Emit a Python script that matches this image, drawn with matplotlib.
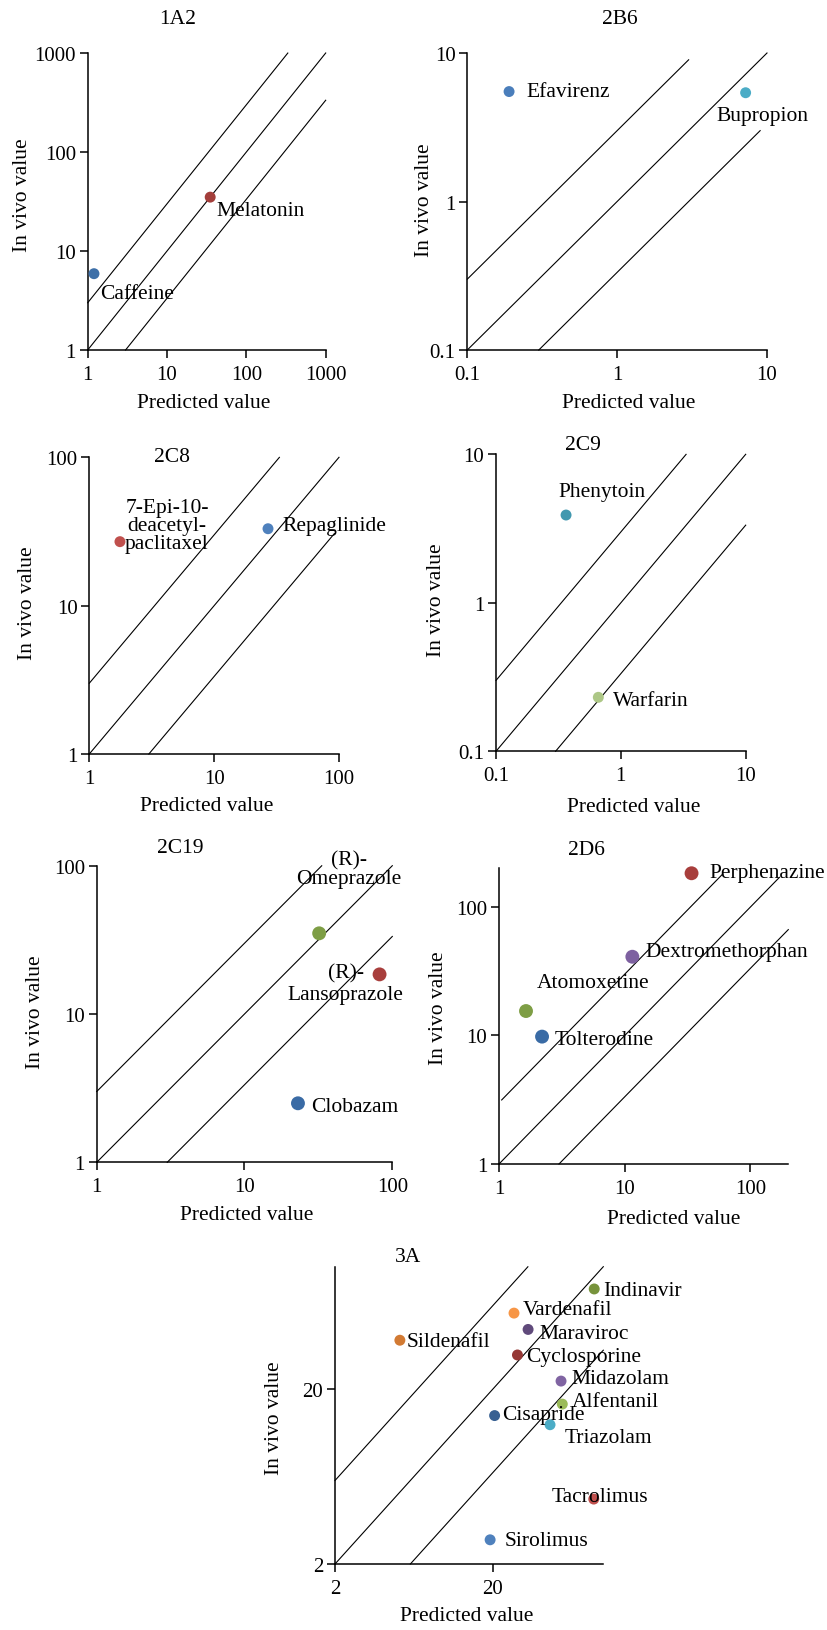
import numpy as np
import matplotlib.pyplot as plt
from matplotlib.ticker import NullLocator

plt.rcParams['font.family'] = ['Liberation Serif', 'DejaVu Serif']
plt.rcParams['font.size'] = 15

W, H = 828, 1631

# ── data (predicted vs in vivo) ───────────────────────────────────────
a1_names = ["Caffeine", "Melatonin"]
a1_pred = [1.2, 35]
a1_vivo = [5.9, 35]
a1_colors = ["#3D6FA8", "#A33E3B"]

b6_names = ["Efavirenz", "Bupropion"]
b6_pred = [0.19, 7.2]
b6_vivo = [5.5, 5.4]
b6_colors = ["#4A7EBB", "#4BACC6"]

c8_names = ["7-Epi-10-\ndeacetyl-\npaclitaxel", "Repaglinide"]
c8_pred = [1.76, 27]
c8_vivo = [27, 33]
c8_colors = ["#C0504D", "#4F81BD"]

c9_names = ["Phenytoin", "Warfarin"]
c9_pred = [0.364, 0.66]
c9_vivo = [3.9, 0.231]
c9_colors = ["#4198AF", "#ADC786"]

c19_names = ["(R)-\nOmeprazole", "(R)-\nLansoprazole", "Clobazam"]
c19_pred = [32, 82, 23]
c19_vivo = [35, 18.5, 2.5]
c19_colors = ["#7E9E45", "#A83E3C", "#3A6BA5"]

d6_names = ["Perphenazine", "Dextromethorphan", "Atomoxetine", "Tolterodine"]
d6_pred = [34, 11.5, 1.64, 2.2]
d6_vivo = [183, 41, 15.5, 9.8]
d6_colors = ["#A83E3C", "#7D60A0", "#7E9E45", "#3A6BA5"]

a3_names = ["Indinavir", "Vardenafil", "Maraviroc", "Sildenafil", "Cyclosporine",
            "Midazolam", "Alfentanil", "Cisapride", "Triazolam", "Tacrolimus",
            "Sirolimus"]
a3_pred = [87.6, 27.2, 33.4, 5.15, 28.6, 54, 55, 20.5, 46, 87, 19.2]
a3_vivo = [74.6, 54.3, 43.8, 38, 31.3, 22.2, 16.4, 14.1, 12.5, 4.7, 2.75]
a3_colors = ["#77933C", "#F79646", "#604A7B", "#D27A33", "#953735",
             "#8064A2", "#9BBB59", "#376092", "#4BACC6", "#C0504D", "#4F81BD"]

# x-extent of the 3-fold / unity / 1/3-fold lines in each panel
fold_ratios = [3, 1, 1 / 3]
a1_spans = [(1, 333), (1, 1000), (3, 1000)]
b6_spans = [(0.1, 3), (0.1, 10), (0.3, 9)]
c8_spans = [(1, 33.3), (1, 100), (3, 92)]
c9_spans = [(0.1, 3.33), (0.1, 10), (0.3, 10)]
c19_spans = [(1, 33.3), (1, 100), (3, 100)]
d6_spans = [(1.05, 60), (1, 170), (3, 200)]
a3_spans = [(2, 33.3), (2, 100), (6, 100)]

# ── label placement (pixel offsets from the point, alignment, spacing) ─
a1_off = [(6, -20, "left", 1.0), (6, -13, "left", 1.0)]
b6_off = [(17, 0, "left", 1.0), (-29, -23, "left", 1.0)]
c8_off = [(47, 16, "center", 0.95), (14, 3, "left", 1.0)]
c9_off = [(-8, 24, "left", 1.0), (15, -3, "left", 1.0)]
c19_off = [(30, 64, "center", 1.0), (-34, -9, "center", 1.2),
           (13, -3, "left", 1.0)]
d6_off = [(18, 1, "left", 1.0), (13, 5, "left", 1.0), (11, 29, "left", 1.0),
          (13, -3, "left", 1.0)]
a3_off = [(9, -2, "left", 1.0), (9, 4, "left", 1.0), (11, -4, "left", 1.0),
          (7, -1, "left", 1.0), (9, -2, "left", 1.0), (10, 3, "left", 1.0),
          (9, 3, "left", 1.0), (8, 1, "left", 1.0), (15, -13, "left", 1.0),
          (-42, 3, "left", 1.0), (15, -1, "left", 1.0)]


def fxy(x, y):
    return x / W, 1 - y / H


def box(l, t, r, b):
    return [l / W, 1 - b / H, (r - l) / W, (b - t) / H]


def panel(fig, rect, title, title_xy, names, pred, vivo, colors, offsets,
          lim, ticks, tick_labels, spans, msize, xlab_xy, ylab_xy):
    ax = fig.add_axes(box(*rect))
    ax.set_xscale("log")
    ax.set_yscale("log")
    ax.set_xlim(lim)
    ax.set_ylim(lim)
    for ratio, (x0, x1) in zip(fold_ratios, spans):
        xs = np.array([x0, x1])
        ax.plot(xs, xs * ratio, color="black", lw=0.8, clip_on=False)
    ax.scatter(pred, vivo, s=msize, c=colors, edgecolors="none", zorder=3,
               clip_on=False)
    for name, x, y, (dx, dy, ha, ls) in zip(names, pred, vivo, offsets):
        ax.annotate(name, (x, y), xytext=(dx, dy), textcoords="offset pixels",
                    ha=ha, va="center", linespacing=ls, fontsize=15.5,
                    zorder=4)
    ax.set_xticks(ticks, tick_labels)
    ax.set_yticks(ticks, tick_labels)
    ax.xaxis.set_minor_locator(NullLocator())
    ax.yaxis.set_minor_locator(NullLocator())
    ax.tick_params(direction="out", length=5.5, width=1.1)
    ax.tick_params(axis="x", pad=5)
    ax.tick_params(axis="y", pad=3)
    for s in ["top", "right"]:
        ax.spines[s].set_visible(False)
    for s in ["left", "bottom"]:
        ax.spines[s].set_linewidth(1.1)
    ax.set_xlabel("Predicted value", va="center", fontsize=15.5)
    ax.set_ylabel("In vivo value", va="center", fontsize=15.5)
    ax.xaxis.set_label_coords(*fxy(*xlab_xy), transform=fig.transFigure)
    ax.yaxis.set_label_coords(*fxy(*ylab_xy), transform=fig.transFigure)
    fig.text(*fxy(*title_xy), title, ha="center", va="center", fontsize=15.5)
    return ax


fig = plt.figure(figsize=(W / 100, H / 100), dpi=100)

panel(fig, (87.7, 54, 325.7, 351), "1A2", (178, 19),
      a1_names, a1_pred, a1_vivo, a1_colors, a1_off,
      (1, 1000), [1, 10, 100, 1000], ["1", "10", "100", "1000"],
      a1_spans, 62, (204, 403), (23, 195))

panel(fig, (467.3, 54, 767, 351), "2B6", (620, 19),
      b6_names, b6_pred, b6_vivo, b6_colors, b6_off,
      (0.1, 10), [0.1, 1, 10], ["0.1", "1", "10"],
      b6_spans, 62, (629, 403), (425, 200))

panel(fig, (89.3, 458.3, 339, 755), "2C8", (172, 457),
      c8_names, c8_pred, c8_vivo, c8_colors, c8_off,
      (1, 100), [1, 10, 100], ["1", "10", "100"],
      c8_spans, 62, (207, 807), (28, 603))

panel(fig, (496, 455.3, 745.7, 752.3), "2C9", (583, 445),
      c9_names, c9_pred, c9_vivo, c9_colors, c9_off,
      (0.1, 10), [0.1, 1, 10], ["0.1", "1", "10"],
      c9_spans, 62, (634, 808), (437, 600))

panel(fig, (96.7, 866.7, 392.3, 1163.3), "2C19", (180, 849),
      c19_names, c19_pred, c19_vivo, c19_colors, c19_off,
      (1, 100), [1, 10, 100], ["1", "10", "100"],
      c19_spans, 100, (247, 1216), (36, 1012))

panel(fig, (499, 869.3, 788.3, 1165), "2D6", (586, 851),
      d6_names, d6_pred, d6_vivo, d6_colors, d6_off,
      (1, 200), [1, 10, 100], ["1", "10", "100"],
      d6_spans, 100, (674, 1220), (439, 1008))

panel(fig, (335, 1267.7, 603.3, 1565), "3A", (408, 1258),
      a3_names, a3_pred, a3_vivo, a3_colors, a3_off,
      (2, 100), [2, 20], ["2", "20"],
      a3_spans, 62, (467, 1617), (275, 1418))

fig.savefig("out.png", dpi=100)
